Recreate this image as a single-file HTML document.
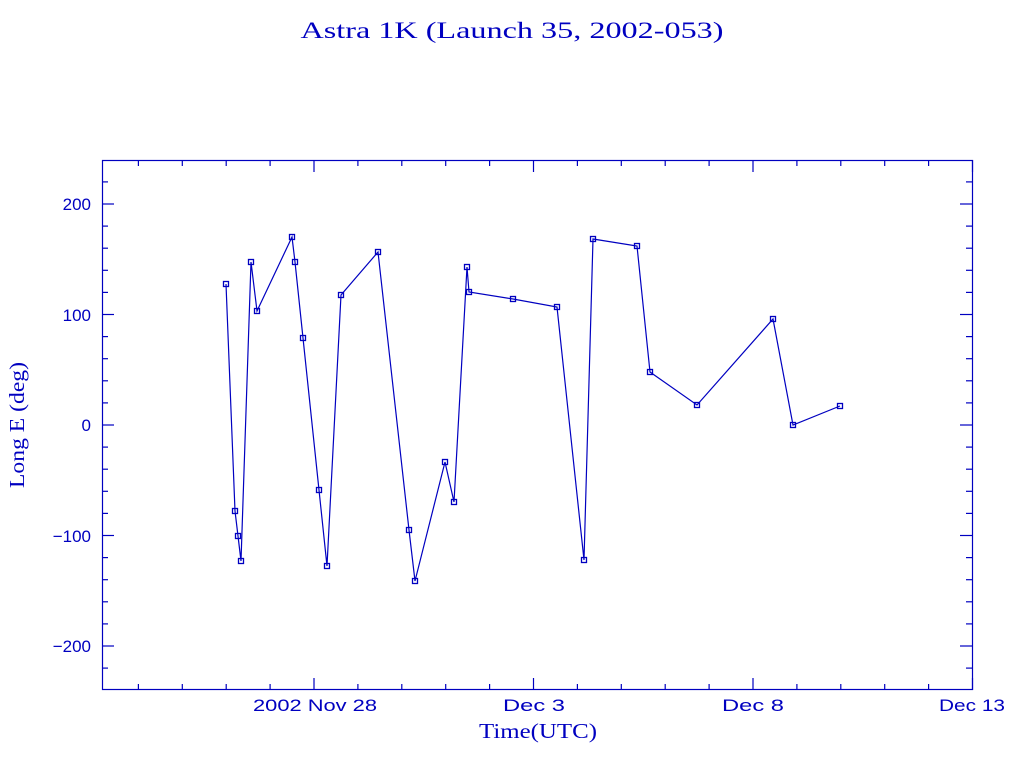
<!DOCTYPE html>
<html><head><meta charset="utf-8"><style>html,body{margin:0;padding:0;background:#fff;}svg{display:block}</style></head>
<body>
<svg id="s" width="1024" height="768" xmlns="http://www.w3.org/2000/svg" font-family="'Liberation Serif', serif" fill="#0000c0">
<text x="512" y="38" font-size="23" text-anchor="middle" textLength="423" lengthAdjust="spacingAndGlyphs">Astra 1K (Launch 35, 2002-053)</text>
<rect x="102.5" y="160.5" width="870" height="529" fill="none" stroke="#0000c0" stroke-width="1.2"/>
<g id="ticks" stroke="#0000c0" stroke-width="1.2"></g>
<g font-size="17" font-family="'Liberation Sans', sans-serif">
<text x="91" y="210" text-anchor="end">200</text>
<text x="91" y="321" text-anchor="end">100</text>
<text x="91" y="431" text-anchor="end">0</text>
<text x="91" y="542" text-anchor="end">−100</text>
<text x="91" y="652" text-anchor="end">−200</text>
<text x="315" y="711" text-anchor="middle" textLength="124" lengthAdjust="spacingAndGlyphs">2002 Nov 28</text>
<text x="534" y="711" text-anchor="middle" textLength="62" lengthAdjust="spacingAndGlyphs">Dec  3</text>
<text x="753" y="711" text-anchor="middle" textLength="62" lengthAdjust="spacingAndGlyphs">Dec  8</text>
<text x="972" y="711" text-anchor="middle" textLength="66" lengthAdjust="spacingAndGlyphs">Dec 13</text>
</g>
<text x="538" y="738" font-size="21" text-anchor="middle" textLength="118" lengthAdjust="spacingAndGlyphs">Time(UTC)</text>
<text transform="translate(24,425) rotate(-90)" font-size="21" text-anchor="middle" textLength="126" lengthAdjust="spacingAndGlyphs">Long E (deg)</text>
<polyline id="line" fill="none" stroke="#0000c0" stroke-width="1.2"/>
<g id="pts" fill="none" stroke="#0000c0" stroke-width="1.3"></g>
</svg>
<script>
var ns="http://www.w3.org/2000/svg",t=document.getElementById('ticks');
function L(x1,y1,x2,y2){var l=document.createElementNS(ns,'line');l.setAttribute('x1',x1);l.setAttribute('y1',y1);l.setAttribute('x2',x2);l.setAttribute('y2',y2);t.appendChild(l);}
for(var v=-240;v<=240;v+=20){var y=425-v*1.105;if(y<160||y>690)continue;var len=(v%100==0)?12:6;L(102,y,102+len,y);L(972,y,972-len,y);}
for(var d=-4;d<=15;d++){var x=314+d*43.9;if(x<102||x>973)continue;var len=(d%5==0)?12:6;L(x,690,x,690-len);L(x,160,x,160+len);}
var P=[[226,284],[235,511],[238,536],[241,561],[251,262],[257,311],[292,237],[295,262],[303,338],[319,490],[327,566],[341,295],[378,252],[409,530],[415,581],[445,462],[454,502],[467,267],[469,292],[513,299],[557,307],[584,560],[593,239],[637,246],[650,372],[697,405],[773,319],[793,425],[840,406]];
document.getElementById('line').setAttribute('points',P.map(function(p){return p.join(',')}).join(' '));
var g=document.getElementById('pts');
P.forEach(function(p){var r=document.createElementNS(ns,'rect');r.setAttribute('x',p[0]-2.5);r.setAttribute('y',p[1]-2.5);r.setAttribute('width',5);r.setAttribute('height',5);g.appendChild(r);});
</script>
</body></html>
